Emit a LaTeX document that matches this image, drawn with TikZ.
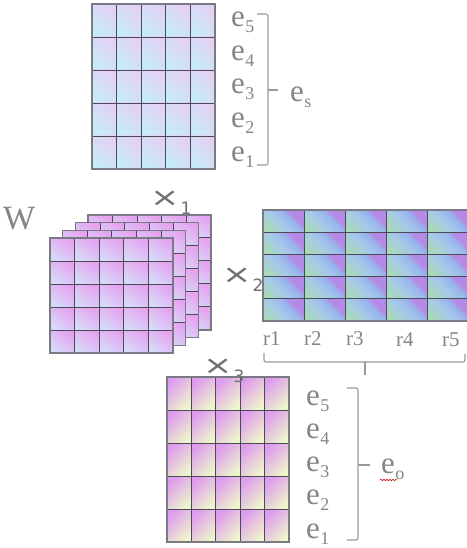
\documentclass[tikz,border=0pt]{standalone}
\usepackage{fontspec}
\setmainfont{Liberation Serif}
\newfontfamily\xfont{DejaVu Sans}
\usetikzlibrary{decorations.pathmorphing}
\definecolor{txtgray}{HTML}{858585}
\definecolor{xgray}{HTML}{707070}
\definecolor{brgray}{HTML}{9A9A9A}
\definecolor{gridc}{HTML}{4B4B58}
\definecolor{outc}{HTML}{7A7A84}
\definecolor{topA}{HTML}{C6ECF8}
\definecolor{topB}{HTML}{E4D0F4}
\definecolor{wA}{HTML}{D6DAF8}
\definecolor{wB}{HTML}{E6A2F0}
\definecolor{botA}{HTML}{EEF4CC}
\definecolor{botB}{HTML}{DE9CEE}
\definecolor{rg}{HTML}{A8DAB8}
\definecolor{rb}{HTML}{A6C8EA}
\definecolor{rb2}{HTML}{98B4EC}
\definecolor{rp}{HTML}{B48AE6}
\pgfdeclareverticalshading{rcellshade}{100bp}{color(0bp)=(rg); color(22bp)=(rg); color(45bp)=(rb); color(60bp)=(rb2); color(67bp)=(rp); color(100bp)=(rp)}
\tikzset{
  gridline/.style={draw=gridc, line width=0.9pt},
  outerline/.style={draw=outc, line width=1.3pt},
  topcell/.style={bottom color=topA, top color=topB, shading angle=-45},
  wcell/.style={bottom color=wA, top color=wB, shading angle=-35},
  botcell/.style={bottom color=botA, top color=botB, shading angle=45},
  rcell/.style={shading=rcellshade, shading angle=-45},
  lab/.style={text=txtgray, font=\fontsize{31}{31}\selectfont, inner sep=0pt, anchor=base west},
  rlab/.style={text=txtgray, font=\fontsize{21}{21}\selectfont, inner sep=0pt, anchor=base west},
  xlab/.style={text=xgray, font=\xfont\fontsize{26}{26}\selectfont, inner sep=0pt, anchor=base west},
  bracket/.style={draw=brgray, line width=1.1pt, rounded corners=2pt},
}
\newcommand\esub[1]{e\kern0.5pt\raisebox{-6pt}{\fontsize{18}{18}\selectfont #1}}
\newcommand\xsub[1]{\scalebox{1.35}[1]{×}\kern1pt\raisebox{-8pt}{\fontsize{17}{17}\selectfont #1}}
% x0 y0 cw ch cellstyle
\newcommand\drawmat[5]{%
  \foreach \i in {0,...,4}{\foreach \j in {0,...,4}{
    \shade[#5] ({#1+\i*#3},{#2+\j*#4}) rectangle ++(#3,#4);
  }}
  \foreach \i in {1,...,4}{
    \draw[gridline] ({#1+\i*#3},#2) -- ++(0,{5*#4});
    \draw[gridline] (#1,{#2+\i*#4}) -- ++({5*#3},0);
  }
  \draw[outerline] (#1,#2) rectangle ++({5*#3},{5*#4});
}
\begin{document}
\begin{tikzpicture}[x=1pt,y=-1pt]
\useasboundingbox (0,0) rectangle (466,548);
\fill[white] (0,0) rectangle (466,548);
% top matrix
\drawmat{92}{4}{24.6}{33}{topcell}
% W stack
\foreach \k in {3,2,1,0}{
  \drawmat{50+12.7*\k}{238-7.7*\k}{24.6}{23}{wcell}
}
% r matrix
\drawmat{263}{210}{41.2}{22.2}{rcell}
% bottom matrix
\drawmat{167}{377}{24.4}{33}{botcell}

% top labels
\node[lab] (t5) at (231,27) {\esub{5}};
\node[lab] (t4) at (231,60.5) {\esub{4}};
\node[lab] (t3) at (231,94) {\esub{3}};
\node[lab] (t2) at (231,127.5) {\esub{2}};
\node[lab] (t1) at (231,161) {\esub{1}};
\draw[bracket] (257,14) -- (268,14) -- (268,165) -- (257,165);
\draw[bracket] (268,90) -- (278,90);
\node[lab] (es) at (290,102) {\esub{s}};

% bottom labels
\node[lab] (b5) at (306,405) {\esub{5}};
\node[lab] (b4) at (306,438.3) {\esub{4}};
\node[lab] (b3) at (306,471.5) {\esub{3}};
\node[lab] (b2) at (306,504.8) {\esub{2}};
\node[lab] (b1) at (306,538) {\esub{1}};
\draw[bracket] (347,388) -- (358,388) -- (358,540) -- (347,540);
\draw[bracket] (358,465) -- (370,465);
\node[lab] (eo) at (381,473) {\esub{o}};
\draw[red!75!black, line width=0.5pt, decorate, decoration={snake, amplitude=0.8pt, segment length=3pt}] (380,480) -- (397,480);

% r labels
\node[rlab] (r1) at (263,345) {r1};
\node[rlab] (r2) at (304,345) {r2};
\node[rlab] (r3) at (346,345) {r3};
\node[rlab] (r4) at (396,346) {r4};
\node[rlab] (r5) at (442,346) {r5};
\draw[bracket] (264,353) -- (264,362) -- (465,362) -- (465,354);
\draw[bracket] (365,362) -- (365,375);

% W and times
\node[lab, font=\fontsize{34}{34}\selectfont] (W) at (3,229) {W};
\node[xlab] (x1) at (150,206) {\xsub{1}};
\node[xlab] (x2) at (222,283) {\xsub{2}};
\node[xlab] (x3) at (203,374) {\xsub{3}};
\end{tikzpicture}
\end{document}
